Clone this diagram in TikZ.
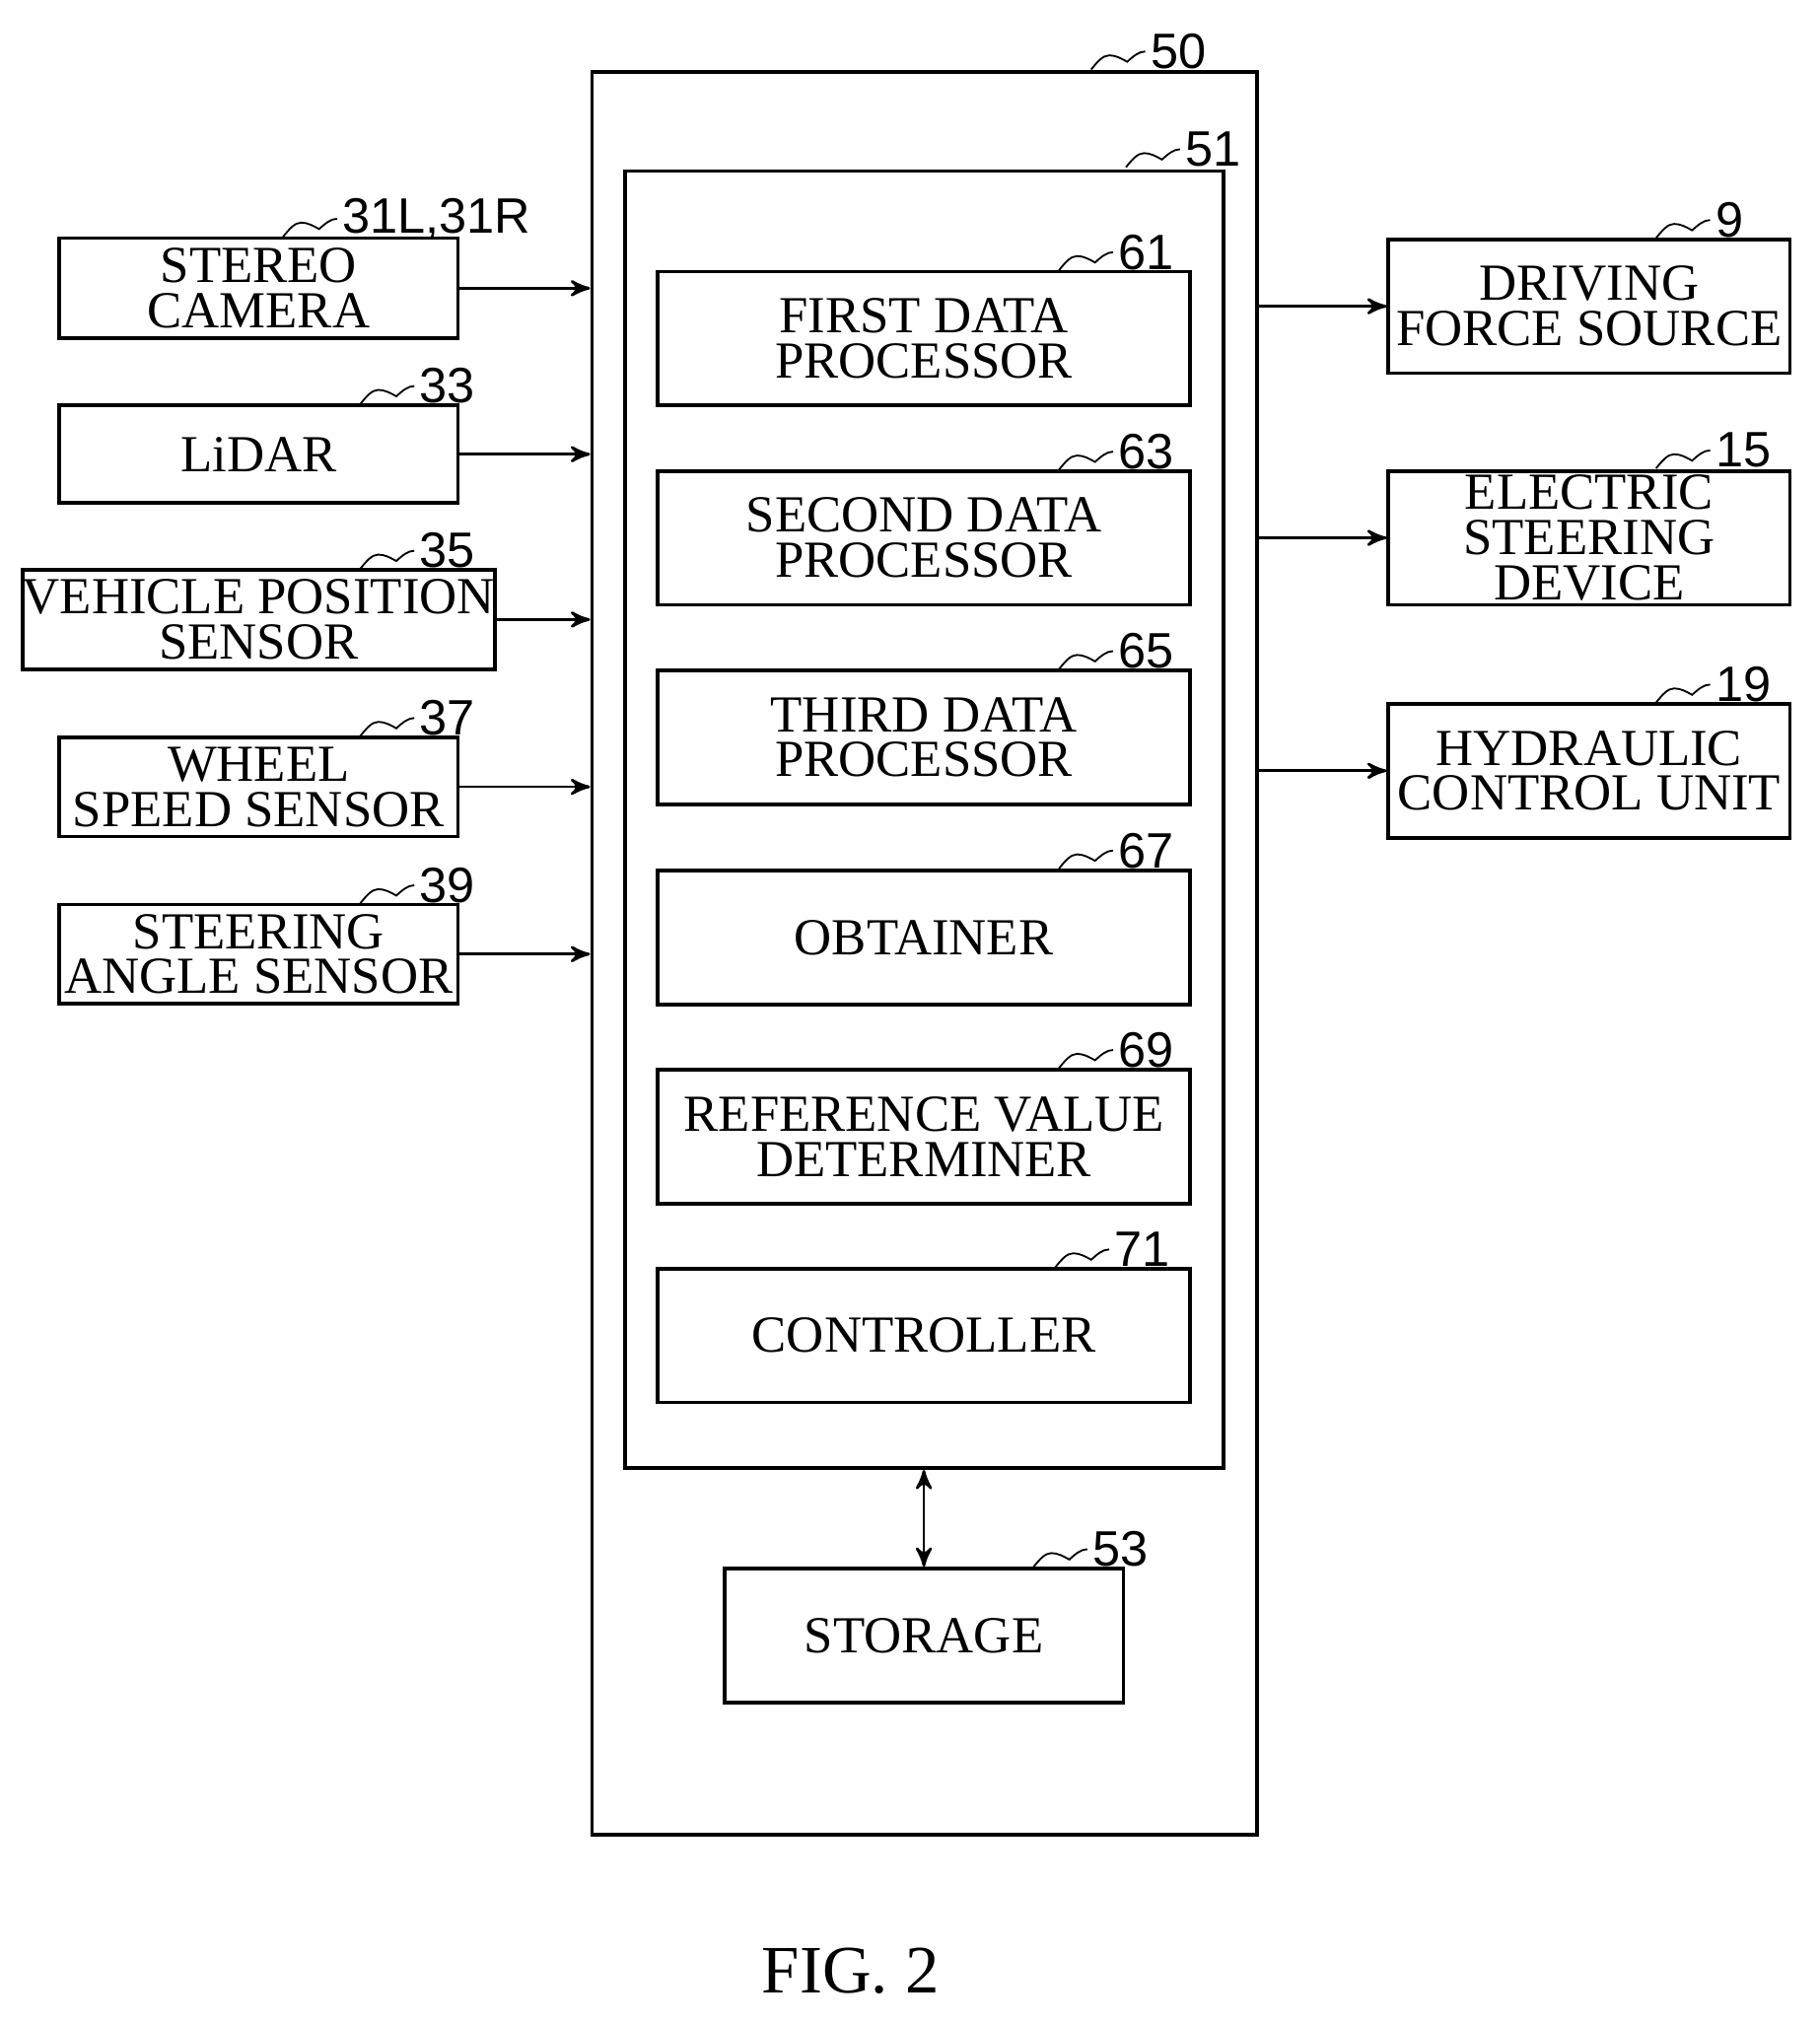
\documentclass[tikz,border=0pt]{standalone}
\usepackage{fontspec}
\setmainfont{Liberation Serif}
\newfontfamily\labelfont{Liberation Sans}
\usetikzlibrary{arrows,positioning}

\tikzset{
  block/.style={draw, thick, align=center, inner sep=0pt,
    font=\fontsize{11.5}{10}\selectfont},
  leader/.style={thin},
  reflabel/.style={anchor=west, inner sep=1pt, font=\labelfont\fontsize{11}{11}\selectfont},
  link/.style={->, >=stealth', semithick}
}
\newcommand\refmark[2]{%
  \draw[leader] (#1) sin ++(0.14,0.11) cos ++(0.14,-0.05) sin ++(0.14,0.08)
    node[reflabel] {#2};}

\begin{document}
\begin{tikzpicture}
\useasboundingbox (0,0) rectangle (14.14,-15.73);

% control unit
\node[block, minimum width=5.17cm, minimum height=13.70cm] (ecu) at (7.185,-7.41) {};
\node[block, minimum width=4.65cm, minimum height=10.08cm] (proc) at (7.185,-6.37) {};

\node[block, minimum width=4.14cm, minimum height=1.04cm] (first) at (7.18,-2.63) {FIRST DATA\\PROCESSOR};
\node[block, minimum width=4.14cm, minimum height=1.04cm] (second) at (7.18,-4.18) {SECOND DATA\\PROCESSOR};
\node[block, minimum width=4.14cm, minimum height=1.04cm] (third) at (7.18,-5.73) {THIRD DATA\\PROCESSOR};
\node[block, minimum width=4.14cm, minimum height=1.04cm] (obtainer) at (7.18,-7.285) {OBTAINER};
\node[block, minimum width=4.14cm, minimum height=1.04cm] (refval) at (7.18,-8.835) {REFERENCE VALUE\\DETERMINER};
\node[block, minimum width=4.14cm, minimum height=1.04cm] (controller) at (7.18,-10.38) {CONTROLLER};
\node[block, minimum width=3.10cm, minimum height=1.04cm] (storage) at (7.18,-12.71) {STORAGE};

% sensors
\node[block, minimum width=3.10cm, minimum height=0.78cm] (camera) at (2.01,-2.24) {STEREO\\CAMERA};
\node[block, minimum width=3.10cm, minimum height=0.76cm] (lidar) at (2.01,-3.53) {LiDAR};
\node[block, minimum width=3.66cm, minimum height=0.77cm] (position) at (2.01,-4.815) {VEHICLE POSITION\\SENSOR};
\node[block, minimum width=3.10cm, minimum height=0.77cm] (wheel) at (2.01,-6.115) {WHEEL\\SPEED SENSOR};
\node[block, minimum width=3.10cm, minimum height=0.77cm] (angle) at (2.01,-7.415) {STEERING\\ANGLE SENSOR};

% actuators
\node[block, minimum width=3.12cm, minimum height=1.04cm] (drive) at (12.35,-2.38) {DRIVING\\FORCE SOURCE};
\node[block, minimum width=3.12cm, minimum height=1.04cm] (steer) at (12.35,-4.18) {ELECTRIC\\STEERING\\DEVICE};
\node[block, minimum width=3.12cm, minimum height=1.04cm] (hydraulic) at (12.35,-5.99) {HYDRAULIC\\CONTROL UNIT};

\foreach \s in {camera,lidar,position,wheel,angle}
  \draw[link] (\s.east) -- (\s.east -| ecu.west);
\foreach \a in {drive,steer,hydraulic}
  \draw[link] (\a.west -| ecu.east) -- (\a.west);
\draw[link, <->] (proc.south -| storage.north) -- (storage.north);

% reference numerals
\refmark{8.48,-0.54}{50}
\refmark{8.75,-1.30}{51}
\refmark{2.20,-1.84}{31L,31R}
\refmark{2.80,-3.14}{33}
\refmark{2.80,-4.42}{35}
\refmark{2.80,-5.72}{37}
\refmark{2.80,-7.02}{39}
\refmark{8.23,-2.10}{61}
\refmark{8.23,-3.65}{63}
\refmark{8.23,-5.20}{65}
\refmark{8.23,-6.75}{67}
\refmark{8.23,-8.30}{69}
\refmark{8.20,-9.85}{71}
\refmark{8.03,-12.18}{53}
\refmark{12.87,-1.85}{9}
\refmark{12.87,-3.64}{15}
\refmark{12.87,-5.46}{19}

\node[font=\fontsize{15}{15}\selectfont] (fig) at (6.61,-15.32) {FIG. 2};
\end{tikzpicture}
\end{document}
